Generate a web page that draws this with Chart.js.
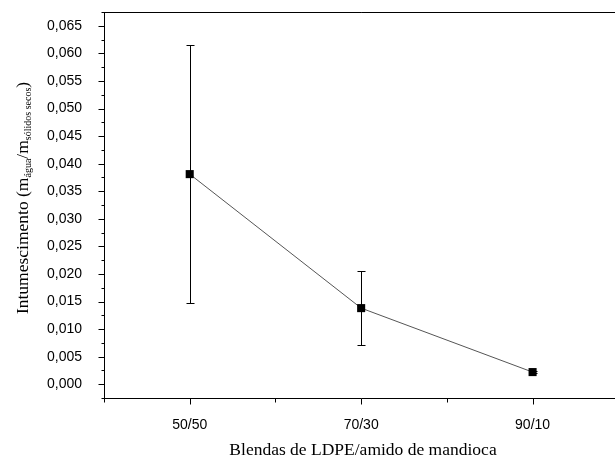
<!DOCTYPE html>
<html>
<head>
<meta charset="utf-8">
<script src="https://cdn.jsdelivr.net/npm/chart.js@4"></script>
<style>
html,body{margin:0;padding:0;background:#fff;overflow:hidden;}
#wrap{width:624px;height:459px;}
canvas{display:block;}
</style>
</head>
<body>
<div id="wrap"><canvas id="c" width="624" height="459" style="width:624px;height:459px"></canvas></div>
<script>
const categories = ['50/50', '70/30', '90/10'];
const categoryPositions = [1, 2, 3];
const intumescimento = [0.0381, 0.0138, 0.0022];
const erro = [0.0234, 0.0067, 0.0002];
const yTickValues = [0, 0.005, 0.010, 0.015, 0.020, 0.025, 0.030, 0.035, 0.040, 0.045, 0.050, 0.055, 0.060, 0.065];
const yMin = -0.0025, yMax = 0.0675;
const xMin = 0.5, xMax = 3.5;

const points = categoryPositions.map((x, i) => ({x: x, y: intumescimento[i]}));

const decor = {
  id: 'decor',
  beforeDatasetsDraw(chart) {
    const ctx = chart.ctx, xs = chart.scales.x, ys = chart.scales.y;
    ctx.save();
    ctx.strokeStyle = '#000';
    ctx.lineWidth = 1;
    points.forEach((p, i) => {
      const px = Math.round(xs.getPixelForValue(p.x)) + 0.5;
      const yt = ys.getPixelForValue(p.y + erro[i]);
      const yb = ys.getPixelForValue(p.y - erro[i]);
      ctx.beginPath();
      ctx.moveTo(px, yt); ctx.lineTo(px, yb);
      ctx.moveTo(px - 4, Math.round(yt) + 0.5); ctx.lineTo(px + 4, Math.round(yt) + 0.5);
      ctx.moveTo(px - 4, Math.round(yb) + 0.5); ctx.lineTo(px + 4, Math.round(yb) + 0.5);
      ctx.stroke();
    });
    ctx.restore();
  },
  afterDraw(chart) {
    const ctx = chart.ctx, xs = chart.scales.x, ys = chart.scales.y;
    const a = chart.chartArea;
    ctx.save();
    ctx.strokeStyle = '#000';
    ctx.lineWidth = 1;
    ctx.beginPath();
    ctx.moveTo(a.left, Math.round(a.top) + 0.5);
    ctx.lineTo(a.right, Math.round(a.top) + 0.5);
    ctx.moveTo(Math.round(a.right) + 0.5, a.top);
    ctx.lineTo(Math.round(a.right) + 0.5, a.bottom);
    ctx.stroke();
    const left = Math.round(a.left) + 0.5;
    ctx.beginPath();
    for (let i = 0; i <= 28; i++) {
      const v = yMin + i * 0.0025;
      const py = Math.round(ys.getPixelForValue(v)) + 0.5;
      const len = (i % 2 === 1) ? 6 : 3;
      ctx.moveTo(left - len, py); ctx.lineTo(left, py);
    }
    const bottom = Math.round(a.bottom) + 0.5;
    for (let i = 0; i <= 6; i++) {
      const v = xMin + i * 0.5;
      const px = Math.round(xs.getPixelForValue(v)) + 0.5;
      const len = (i % 2 === 1) ? 6 : 4;
      ctx.moveTo(px, bottom); ctx.lineTo(px, bottom + len);
    }
    ctx.stroke();
    ctx.fillStyle = '#000';
    ctx.font = '17.5px "Liberation Serif", "Times New Roman", serif';
    ctx.textAlign = 'center';
    ctx.textBaseline = 'alphabetic';
    ctx.fillText('Blendas de LDPE/amido de mandioca', 363, 455);
    const big = '17.5px "Liberation Serif", "Times New Roman", serif';
    const small = '10px "Liberation Serif", "Times New Roman", serif';
    const parts = [
      {t: 'Intumescimento (m', f: big, dy: 0},
      {t: 'água', f: small, dy: 2.5},
      {t: '/m', f: big, dy: 0},
      {t: 'sólidos secos', f: small, dy: 2.5},
      {t: ')', f: big, dy: 0}
    ];
    let total = 0;
    parts.forEach(p => { ctx.font = p.f; p.w = ctx.measureText(p.t).width; total += p.w; });
    ctx.translate(28, 198);
    ctx.rotate(-Math.PI / 2);
    ctx.textAlign = 'left';
    let x = -total / 2;
    parts.forEach(p => { ctx.font = p.f; ctx.fillText(p.t, x, p.dy); x += p.w; });
    ctx.restore();
  }
};

new Chart(document.getElementById('c'), {
  type: 'line',
  data: {
    datasets: [{
      data: points,
      borderColor: '#555',
      borderWidth: 1,
      pointStyle: 'rect',
      pointRadius: 5.7,
      pointHoverRadius: 5.7,
      pointBackgroundColor: '#000',
      pointBorderColor: '#000',
      pointBorderWidth: 0,
      tension: 0,
      clip: false
    }]
  },
  options: {
    responsive: false,
    animation: false,
    events: [],
    layout: {padding: {top: 12, right: 0, left: 0, bottom: 0}},
    plugins: {legend: {display: false}, tooltip: {enabled: false}},
    scales: {
      x: {
        type: 'linear',
        min: xMin, max: xMax,
        afterBuildTicks(scale) { scale.ticks = categoryPositions.map(v => ({value: v})); },
        afterFit(scale) { scale.height = 61; scale.paddingLeft = 0; scale.paddingRight = 0; },
        ticks: {
          callback: (v) => categories[categoryPositions.indexOf(v)],
          color: '#000',
          font: {family: '"Liberation Sans", Arial, sans-serif', size: 14},
          padding: 11,
          maxRotation: 0,
          autoSkip: false
        },
        grid: {display: false},
        border: {display: true, color: '#000', width: 1}
      },
      y: {
        type: 'linear',
        min: yMin, max: yMax,
        afterBuildTicks(scale) { scale.ticks = yTickValues.map(v => ({value: v})); },
        afterFit(scale) { scale.width = 104; scale.paddingTop = 0; scale.paddingBottom = 0; },
        ticks: {
          callback: (v) => v.toFixed(3).replace('.', ','),
          color: '#000',
          font: {family: '"Liberation Sans", Arial, sans-serif', size: 14},
          padding: 14,
          autoSkip: false
        },
        grid: {display: false},
        border: {display: true, color: '#000', width: 1}
      }
    }
  },
  plugins: [decor]
});
</script>
</body>
</html>
